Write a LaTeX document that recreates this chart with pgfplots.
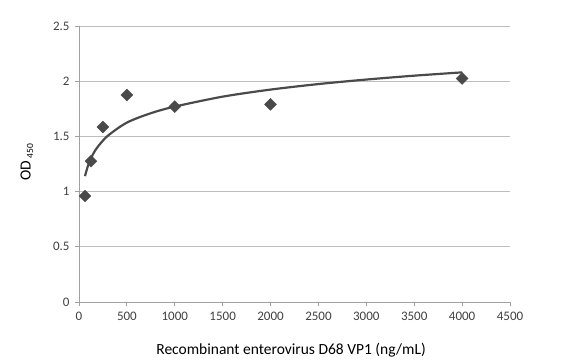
\documentclass[border=0pt]{standalone}
\usepackage{fontspec}
\setmainfont{Carlito}
\usepackage{pgfplots}
\pgfplotsset{compat=1.18}
\definecolor{txt}{HTML}{404040}
\definecolor{gridc}{HTML}{BEBEBE}
\definecolor{axc}{HTML}{A0A0A0}
\definecolor{ser}{HTML}{4A4A4A}
\begin{document}
\begin{tikzpicture}
\begin{axis}[
  scale only axis, width=431bp, height=276bp,
  xmin=0, xmax=4500, ymin=0, ymax=2.5,
  xtick={0,500,...,4500}, ytick={0,0.5,...,2.5},
  axis x line*=bottom, axis y line*=left,
  axis line style={axc, line width=0.8pt, -},
  ymajorgrids, grid style={gridc, line width=0.8pt},
  tick style={axc, line width=0.8pt},
  tick align=outside, major tick length=4bp,
  /pgf/number format/assume math mode=true,
  /pgf/number format/1000 sep={},
  ticklabel style={font=\fontsize{13bp}{15bp}\selectfont, text=txt},
  yticklabel style={/pgf/number format/fixed, xshift=-2bp},
  xticklabel style={yshift=-3bp},
  xlabel={Recombinant enterovirus D68 VP1 (ng/mL)},
  ylabel={OD\,\raisebox{-2.5bp}{\fontsize{9.5bp}{10bp}\selectfont 450}},
  label style={font=\fontsize{15.5bp}{17bp}\selectfont, text=black},
  xlabel style={at={(axis description cs:0.492,-0.174)}, anchor=center},
  ylabel style={at={(axis description cs:-0.121,0.507)}, anchor=center},
  clip=false,
]
\addplot[ser, line width=2.2pt, smooth, no marks] coordinates {
(62.5,1.14) (100,1.25) (150,1.345) (200,1.41) (300,1.505) (500,1.625)
(750,1.71) (1000,1.77) (1500,1.86) (2000,1.924) (2500,1.974) (3000,2.015)
(3500,2.05) (4000,2.08)};
\addplot[only marks, mark=square*, mark size=4.2bp, mark options={rotate=45, fill=ser, draw=ser}] coordinates {
(62.5,0.96) (125,1.275) (250,1.585) (500,1.875) (1000,1.77) (2000,1.79) (4000,2.025)};
\end{axis}
\path[use as bounding box] (-79bp,-58bp) rectangle (490bp,302bp);
\end{tikzpicture}
\end{document}
